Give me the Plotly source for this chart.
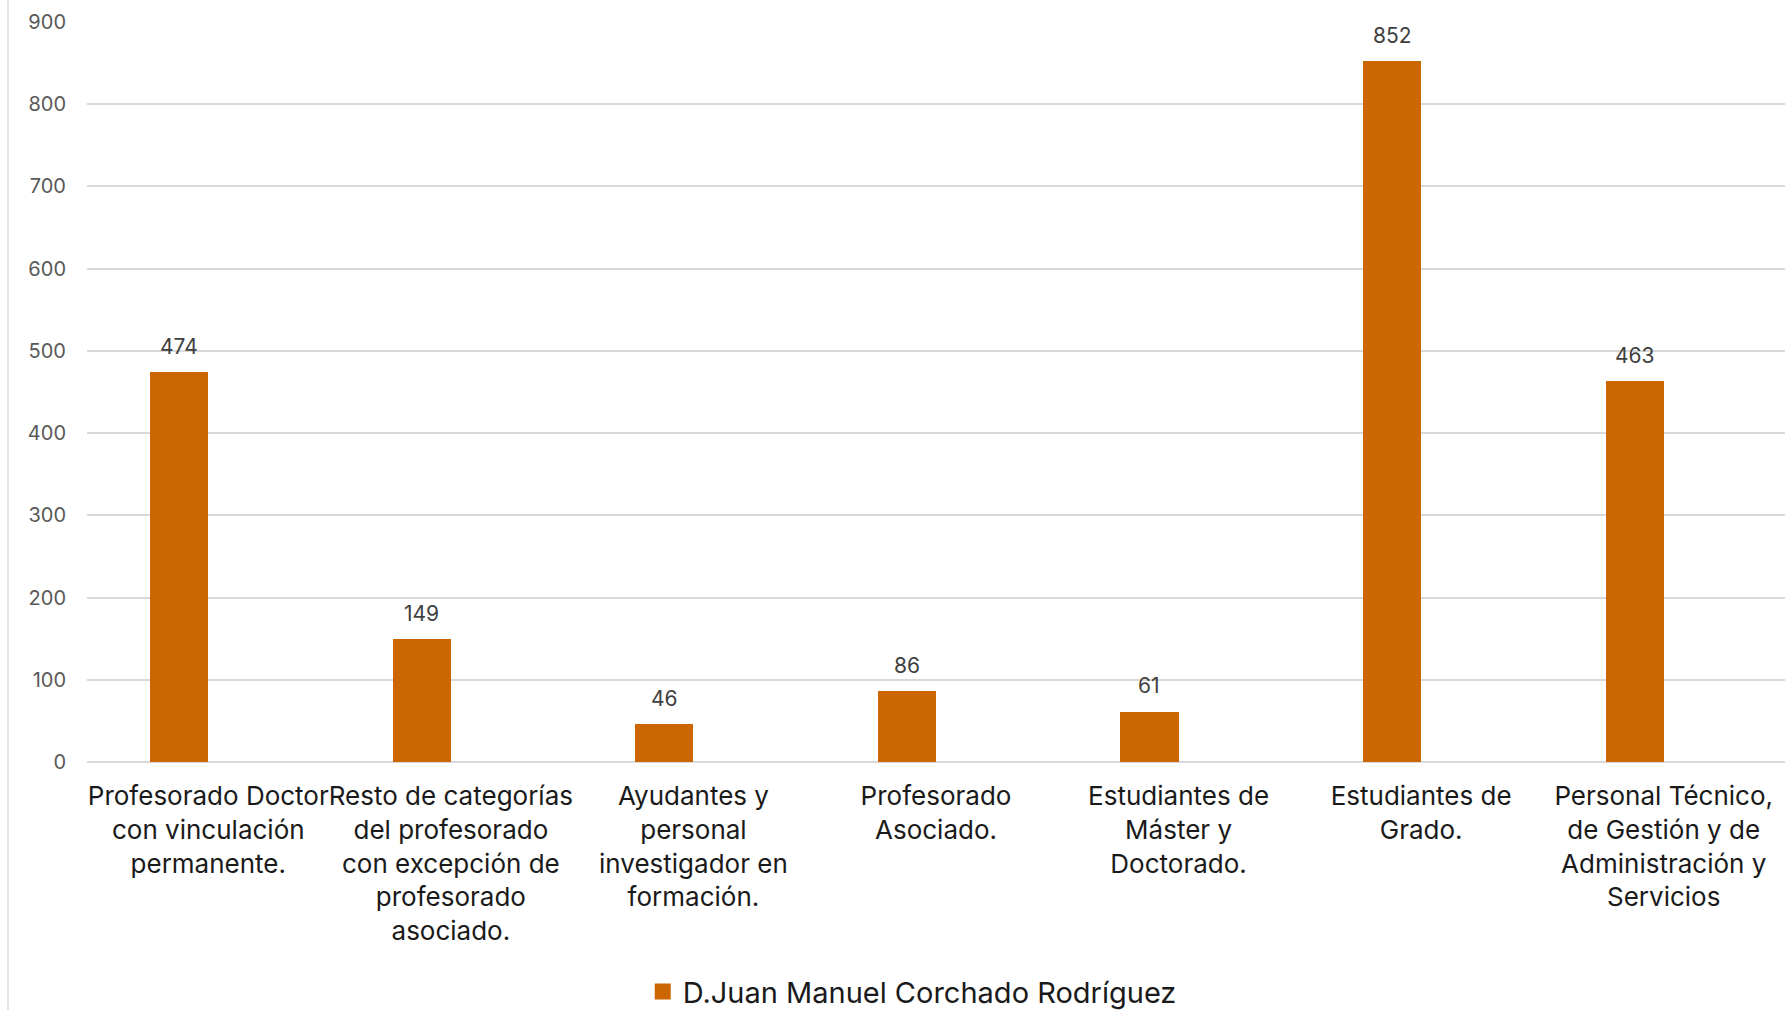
import plotly.graph_objects as go

categories = [
    "Profesorado Doctor<br>con vinculación<br>permanente.",
    "Resto de categorías<br>del profesorado<br>con excepción de<br>profesorado<br>asociado.",
    "Ayudantes y<br>personal<br>investigador en<br>formación.",
    "Profesorado<br>Asociado.",
    "Estudiantes de<br>Máster y<br>Doctorado.",
    "Estudiantes de<br>Grado.",
    "Personal Técnico,<br>de Gestión y de<br>Administración y<br>Servicios",
]
values = [474, 149, 46, 86, 61, 852, 463]
series_name = "D.Juan Manuel Corchado Rodríguez"
y_ticks = [0, 100, 200, 300, 400, 500, 600, 700, 800, 900]

FONT = "Inter"
BAR_COLOR = "#CC6600"
W, H = 1787, 1010
L, R, T, B = 87, 2, 22, 248
plot_w = W - L - R
cat_px = plot_w / len(categories)
bar_width = 0.24
bar_offset = -0.24

fig = go.Figure()
fig.add_trace(go.Bar(
    x=categories, y=values, name=series_name, showlegend=False,
    marker=dict(color=BAR_COLOR, line=dict(width=0)),
    width=bar_width, offset=bar_offset,
))
# legend entry with a larger square swatch
fig.add_trace(go.Scatter(
    x=[None], y=[None], mode="markers", name=series_name,
    marker=dict(symbol="square", size=17, color=BAR_COLOR),
))
for c, v in zip(categories, values):
    fig.add_annotation(
        x=c, y=v, text=str(v), showarrow=False,
        xshift=(bar_offset + bar_width / 2) * cat_px, yshift=26,
        yanchor="middle", xanchor="center",
        font=dict(family=FONT, size=21, color="#404040"),
    )
fig.update_layout(
    width=W, height=H,
    margin=dict(l=L, r=R, t=T, b=B, autoexpand=False),
    paper_bgcolor="white", plot_bgcolor="white",
    showlegend=True,
    legend=dict(orientation="h", x=0.486, xanchor="center", y=-0.3105, yanchor="middle",
                font=dict(family=FONT, size=29, color="#1a1a1a")),
    xaxis=dict(showgrid=False, showline=False, ticks="", tickangle=0, automargin=False,
               tickfont=dict(family=FONT, size=26, color="#1a1a1a"),
               ticklabelstandoff=16),
    yaxis=dict(range=[0, 900], tickvals=y_ticks, showgrid=True, gridcolor="#d9d9d9",
               gridwidth=1.5, zeroline=True, zerolinecolor="#d9d9d9", zerolinewidth=1.5,
               tickfont=dict(family=FONT, size=20, color="#595959"),
               ticklabelstandoff=20, automargin=False),
    bargap=0,
    shapes=[dict(type="line", xref="paper", yref="paper", x0=-79 / plot_w, x1=-79 / plot_w,
                 y0=-1, y1=1.05, line=dict(color="#d9d9d9", width=1.5))],
)
fig.write_html("out.html", config={"displayModeBar": False},
               post_script="document.body.style.margin='0px';")
